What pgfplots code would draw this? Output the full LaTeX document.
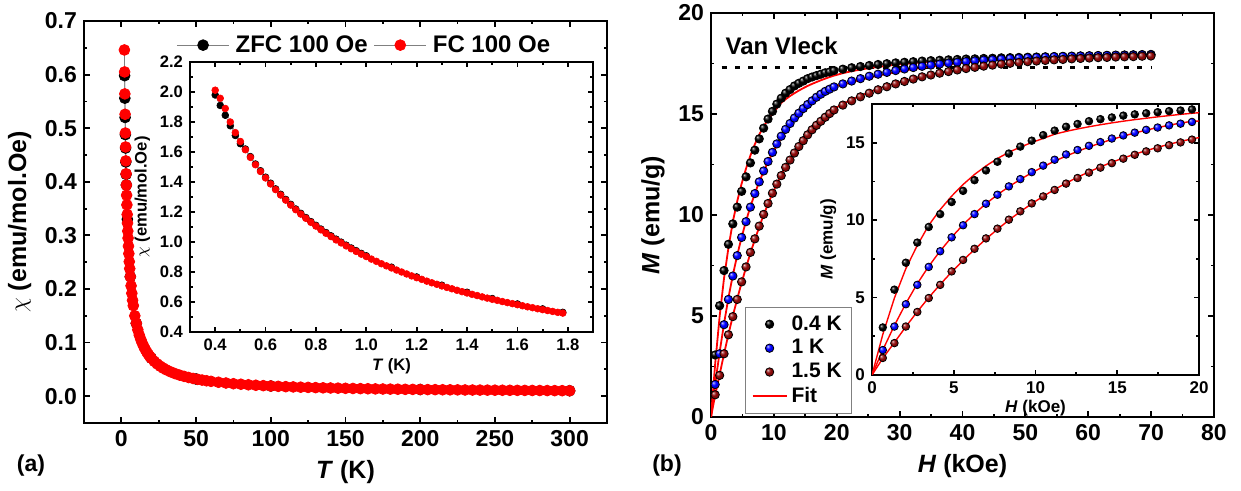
\documentclass[border=0pt]{standalone}
\usepackage{fontspec}
\setmainfont{Liberation Sans}
\usepackage{pgfplots}
\usepackage{pgfplotstable}
\pgfplotsset{compat=1.18}
\definecolor{dred}{RGB}{140,10,10}

% sharper highlight for the ball markers
\makeatletter
\pgfdeclareradialshading[tikz@ball]{ball}{\pgfqpoint{-12bp}{12bp}}{%
  color(0bp)=(tikz@ball!15!white); color(7bp)=(tikz@ball!70!white);
  color(15bp)=(tikz@ball); color(32bp)=(tikz@ball!75!black);
  color(50bp)=(tikz@ball!45!black)}
\makeatother

% chi(T), main panel (a)
\pgfplotstableread{
T chi
2.03 0.646
2.17 0.605
2.33 0.564
2.50 0.526
2.68 0.491
2.83 0.465
3.00 0.439
3.18 0.415
3.35 0.394
3.52 0.375
3.70 0.357
3.90 0.339
4.10 0.323
4.30 0.308
4.50 0.295
4.75 0.280
5.00 0.266
5.30 0.251
5.60 0.238
6.00 0.223
6.50 0.206
7.00 0.192
7.50 0.179
8.00 0.169
9.00 0.150
10 0.136
11 0.124
12 0.114
13 0.106
14 0.0989
15 0.0927
16 0.0873
17 0.0825
18 0.0782
19 0.0744
20 0.0710
22 0.0651
24 0.0602
26 0.0560
28 0.0524
30 0.0493
33 0.0454
36 0.0421
39 0.0393
42 0.0370
45 0.0349
48 0.0331
51 0.0315
54 0.0301
57 0.0288
60 0.0277
65 0.0260
70 0.0246
75 0.0233
80 0.0223
85 0.0213
90 0.0204
95 0.0197
100 0.0190
105 0.0184
110 0.0178
115 0.0173
120 0.0168
125 0.0164
130 0.0160
135 0.0156
140 0.0153
145 0.0150
150 0.0147
155 0.0144
160 0.0141
165 0.0139
170 0.0136
175 0.0134
180 0.0132
185 0.0130
190 0.0128
195 0.0127
200 0.0125
205 0.0123
210 0.0122
215 0.0120
220 0.0119
225 0.0118
230 0.0116
235 0.0115
240 0.0114
245 0.0113
250 0.0112
255 0.0111
260 0.0110
265 0.0109
270 0.0108
275 0.0107
280 0.0106
285 0.0105
290 0.0104
295 0.0103
300 0.0102
}\fcmain

\pgfplotstableread{
T chi
2.17 0.598
2.33 0.556
2.50 0.520
2.68 0.488
2.83 0.463
3.00 0.437
3.18 0.414
3.35 0.394
4.00 0.330
6.00 0.223
10 0.136
20 0.0710
50 0.0320
100 0.0190
200 0.0125
300 0.0102
}\zfcmain

% chi(T), inset of (a)
\pgfplotstableread{
T chi
0.40 2.012
0.42 1.958
0.44 1.890
0.46 1.800
0.48 1.729
0.50 1.670
0.52 1.615
0.54 1.564
0.56 1.515
0.58 1.470
0.60 1.427
0.62 1.387
0.64 1.349
0.66 1.313
0.68 1.279
0.70 1.246
0.72 1.215
0.74 1.186
0.76 1.158
0.78 1.131
0.80 1.106
0.82 1.081
0.84 1.058
0.86 1.036
0.88 1.014
0.90 0.994
0.92 0.974
0.94 0.955
0.96 0.937
0.98 0.919
1.00 0.903
1.02 0.886
1.04 0.871
1.06 0.855
1.08 0.841
1.10 0.827
1.12 0.813
1.14 0.800
1.16 0.787
1.18 0.774
1.20 0.762
1.22 0.751
1.24 0.739
1.26 0.728
1.28 0.718
1.30 0.707
1.32 0.697
1.34 0.688
1.36 0.678
1.38 0.669
1.40 0.660
1.42 0.651
1.44 0.643
1.46 0.634
1.48 0.626
1.50 0.618
1.52 0.611
1.54 0.603
1.56 0.596
1.58 0.589
1.60 0.582
1.62 0.575
1.64 0.568
1.66 0.562
1.68 0.555
1.70 0.549
1.72 0.543
1.74 0.537
1.76 0.531
1.78 0.526
}\fcin

\pgfplotstableread{
T chi
0.40 1.980
0.42 1.910
0.44 1.845
0.46 1.775
0.48 1.710
0.50 1.655
0.52 1.620
0.54 1.569
0.56 1.520
0.58 1.475
0.60 1.432
0.62 1.392
0.64 1.354
0.66 1.318
0.68 1.284
0.70 1.251
0.72 1.220
0.74 1.191
0.76 1.163
0.78 1.136
0.80 1.111
0.82 1.086
0.84 1.063
0.86 1.041
0.88 1.019
0.90 0.999
0.92 0.979
0.94 0.960
0.96 0.942
0.98 0.924
1.00 0.908
1.10 0.832
1.20 0.767
1.30 0.712
1.40 0.665
1.50 0.623
1.60 0.587
1.70 0.554
1.78 0.531
}\zfcin

% M(H): H (kOe), M data (emu/g), F fit
\pgfplotstableread{
H M F
0 nan 0
0.66 3.07 2.62
1.37 5.51 4.97
2.07 7.25 6.87
2.77 8.55 8.37
3.47 9.56 9.67
4.17 10.39 10.68
4.87 11.17 11.55
5.57 11.89 12.30
6.27 12.58 12.95
6.97 13.21 13.50
7.67 13.77 13.98
8.37 14.30 14.38
9.07 14.75 14.72
9.77 15.13 15.01
10.47 15.49 15.28
11.17 15.78 15.55
11.87 16.03 15.73
12.57 16.21 15.89
13.27 16.39 16.03
13.97 16.52 16.16
14.67 16.63 16.28
15.37 16.75 16.39
16.07 16.83 16.49
16.77 16.90 16.58
17.47 16.97 16.67
18.17 17.04 16.75
18.87 17.08 16.83
19.57 17.15 16.90
20.97 17.22 17.02
22.37 17.29 17.12
23.77 17.35 17.20
25.17 17.40 17.27
26.57 17.45 17.33
27.97 17.49 17.39
29.37 17.53 17.44
30.77 17.56 17.48
32.17 17.59 17.52
33.57 17.62 17.55
34.97 17.64 17.58
36.37 17.66 17.61
37.77 17.68 17.63
39.17 17.70 17.65
40.57 17.72 17.67
41.97 17.73 17.69
43.37 17.75 17.71
44.77 17.76 17.73
46.17 17.78 17.74
47.57 17.79 17.76
48.97 17.80 17.77
50.37 17.81 17.78
51.77 17.82 17.79
53.17 17.83 17.80
54.57 17.84 17.81
55.97 17.85 17.82
57.37 17.86 17.83
58.77 17.87 17.84
60.17 17.88 17.85
61.57 17.89 17.86
62.97 17.90 17.87
64.37 17.91 17.88
65.77 17.92 17.89
67.17 17.93 17.90
68.57 17.94 17.91
69.97 17.95 17.92
}\mhA

\pgfplotstableread{
H M F
0 nan 0
0.66 1.61 1.62
1.37 3.13 3.20
2.07 4.57 4.62
2.77 5.82 5.90
3.47 6.98 7.02
4.17 7.99 8.01
4.87 8.89 8.90
5.57 9.67 9.70
6.27 10.39 10.42
6.97 11.06 11.06
7.67 11.64 11.64
8.37 12.18 12.16
9.07 12.65 12.63
9.77 13.10 13.06
10.47 13.52 13.45
11.17 13.90 13.81
11.87 14.24 14.14
12.57 14.53 14.44
13.27 14.80 14.72
13.97 15.04 14.98
14.67 15.27 15.21
15.37 15.47 15.43
16.07 15.65 15.63
16.77 15.83 15.81
17.47 15.98 15.98
18.17 16.12 16.13
18.87 16.23 16.27
19.57 16.34 16.38
20.97 16.49 16.45
22.37 16.63 16.58
23.77 16.75 16.69
25.17 16.87 16.80
26.57 16.97 16.90
27.97 17.06 16.99
29.37 17.15 17.07
30.77 17.23 17.15
32.17 17.30 17.22
33.57 17.36 17.29
34.97 17.42 17.35
36.37 17.47 17.41
37.77 17.52 17.46
39.17 17.56 17.51
40.57 17.60 17.55
41.97 17.63 17.59
43.37 17.67 17.63
44.77 17.69 17.66
46.17 17.72 17.69
47.57 17.75 17.72
48.97 17.77 17.74
50.37 17.79 17.76
51.77 17.80 17.78
53.17 17.82 17.80
54.57 17.84 17.82
55.97 17.85 17.83
57.37 17.86 17.85
58.77 17.87 17.86
60.17 17.88 17.87
61.57 17.89 17.88
62.97 17.90 17.89
64.37 17.91 17.90
65.77 17.91 17.91
67.17 17.92 17.92
68.57 17.93 17.93
69.97 17.93 17.93
}\mhB

\pgfplotstableread{
H M F
0 nan 0
0.66 1.10 1.08
1.37 2.06 2.10
2.07 3.13 3.12
2.77 4.07 4.09
3.47 4.97 5.00
4.17 5.82 5.85
4.87 6.69 6.65
5.57 7.43 7.40
6.27 8.15 8.11
6.97 8.82 8.78
7.67 9.45 9.41
8.37 10.03 10.00
9.07 10.57 10.55
9.77 11.08 11.06
10.47 11.53 11.54
11.17 11.95 11.98
11.87 12.36 12.39
12.57 12.72 12.77
13.27 13.07 13.12
13.97 13.39 13.44
14.67 13.68 13.74
15.37 13.97 14.01
16.07 14.22 14.26
16.77 14.44 14.49
17.47 14.64 14.70
18.17 14.84 14.90
18.87 15.02 15.08
19.57 15.20 15.25
20.97 15.44 15.50
22.37 15.65 15.71
23.77 15.85 15.90
25.17 16.03 16.08
26.57 16.20 16.24
27.97 16.35 16.39
29.37 16.49 16.52
30.77 16.61 16.64
32.17 16.73 16.75
33.57 16.84 16.86
34.97 16.93 16.95
36.37 17.02 17.04
37.77 17.10 17.12
39.17 17.18 17.19
40.57 17.25 17.26
41.97 17.31 17.32
43.37 17.37 17.38
44.77 17.42 17.43
46.17 17.47 17.48
47.57 17.51 17.52
48.97 17.55 17.56
50.37 17.59 17.59
51.77 17.62 17.62
53.17 17.65 17.65
54.57 17.68 17.68
55.97 17.70 17.70
57.37 17.73 17.73
58.77 17.75 17.75
60.17 17.77 17.77
61.57 17.79 17.79
62.97 17.80 17.80
64.37 17.82 17.82
65.77 17.83 17.83
67.17 17.84 17.84
68.57 17.86 17.86
69.97 17.87 17.87
}\mhC

\pgfplotsset{
  panel/.style={
    scale only axis, anchor=south west,
    axis background/.style={fill=white},
    tick align=inside,
    axis line style={line width=1pt},
    every tick/.append style={black, line width=0.9pt},
    major tick length=3pt, minor tick length=1.7pt,
    minor x tick num=1, minor y tick num=1,
    /pgf/number format/assume math mode=true,
  },
  onedec/.style={/pgf/number format/fixed, /pgf/number format/fixed zerofill,
    /pgf/number format/precision=1},
  longleg/.style={legend image code/.code={%
    \draw[mark repeat=2,mark phase=2,##1] plot coordinates
      {(0cm,0cm) (0.46cm,0cm) (0.92cm,0cm)};}},
}

\begin{document}
\begin{tikzpicture}
\useasboundingbox (0,0) rectangle (620.5pt,245.5pt);

% ---------- panel (a) ----------
\begin{axis}[panel, at={(42pt,34pt)}, width=261.5pt, height=201pt,
  xmin=-25, xmax=325, ymin=-0.05, ymax=0.7,
  xtick={0,50,100,150,200,250,300},
  ytick={0,0.1,0.2,0.3,0.4,0.5,0.6,0.7},
  yticklabel style={onedec},
  tick label style={font=\fontsize{11.5}{13}\selectfont\bfseries},
  label style={font=\fontsize{12.5}{14}\selectfont\bfseries},
  xlabel={\textit{T} (K)}, ylabel={$\chi$ (emu/mol.Oe)},
  legend columns=2,
  legend style={at={(0.538,0.94)}, anchor=center, draw=none, fill=none,
    font=\fontsize{12}{14}\selectfont\bfseries, column sep=1pt},
]
\addplot [gray, line width=0.4pt, mark=*, mark size=2.7pt, longleg,
  mark options={black, fill=black}] table [x=T, y=chi] {\zfcmain};
\addlegendentry{ZFC 100 Oe}
\addplot [gray, line width=0.4pt, mark=*, mark size=2.7pt, longleg,
  mark options={red, fill=red}] table [x=T, y=chi] {\fcmain};
\addlegendentry{FC 100 Oe}
\end{axis}

\begin{axis}[panel, at={(95pt,79.5pt)}, width=201.5pt, height=135pt,
  xmin=0.3, xmax=1.9, ymin=0.4, ymax=2.2,
  xtick={0.4,0.6,0.8,1.0,1.2,1.4,1.6,1.8},
  ytick={0.4,0.6,0.8,1.0,1.2,1.4,1.6,1.8,2.0,2.2},
  xticklabel style={onedec}, yticklabel style={onedec},
  major tick length=2.5pt, minor tick length=1.4pt,
  tick label style={font=\fontsize{8.3}{9.5}\selectfont\bfseries},
  label style={font=\fontsize{8.3}{9.5}\selectfont\bfseries},
  xlabel={\textit{T} (K)}, ylabel={$\chi$ (emu/mol.Oe)},
  xlabel style={yshift=3pt}, ylabel style={yshift=-2pt},
]
\addplot [gray, line width=0.3pt, mark=*, mark size=1.7pt,
  mark options={black, fill=black}] table [x=T, y=chi] {\zfcin};
\addplot [gray, line width=0.3pt, mark=*, mark size=1.7pt,
  mark options={red, fill=red}] table [x=T, y=chi] {\fcin};
\end{axis}

% ---------- panel (b) ----------
\begin{axis}[panel, at={(355.5pt,37pt)}, width=251.5pt, height=202pt,
  xmin=0, xmax=80, ymin=0, ymax=20,
  xtick={0,10,20,30,40,50,60,70,80}, ytick={0,5,10,15,20},
  tick label style={font=\fontsize{11.5}{13}\selectfont\bfseries},
  label style={font=\fontsize{12.5}{14}\selectfont\bfseries},
  xlabel={\textit{H} (kOe)}, ylabel={\textit{M} (emu/g)},
  legend cell align=left,
  legend style={at={(0.068,0.008)}, anchor=south west, draw=gray, fill=white,
    font=\fontsize{10.5}{12}\selectfont\bfseries, row sep=-0.8pt},
]
\addplot [only marks, mark=ball, mark size=2.1pt, ball color=black,
  mark options={ball color=black}] table [x=H, y=M] {\mhA};
\addlegendentry{0.4 K}
\addplot [only marks, mark=ball, mark size=2.1pt, ball color=blue,
  mark options={ball color=blue}] table [x=H, y=M] {\mhB};
\addlegendentry{1 K}
\addplot [only marks, mark=ball, mark size=2.1pt, ball color=dred,
  mark options={ball color=dred}] table [x=H, y=M] {\mhC};
\addlegendentry{1.5 K}
\addplot [black, line width=1.2pt, dash pattern=on 2.5pt off 4.2pt, forget plot]
  coordinates {(1.7,17.3) (70,17.3)};
\addplot [red, line width=0.9pt, forget plot] table [x=H, y=F] {\mhA};
\addplot [red, line width=0.9pt, forget plot] table [x=H, y=F] {\mhB};
\addplot [red, line width=0.9pt, line legend] table [x=H, y=F] {\mhC};
\addlegendentry{Fit}
\node [anchor=west, font=\fontsize{12}{14}\selectfont\bfseries]
  at (axis cs:1.2,18.35) {Van Vleck};
\end{axis}

\begin{axis}[panel, at={(436pt,58pt)}, width=163.5pt, height=135.5pt,
  xmin=0, xmax=20, ymin=0, ymax=17.5,
  xtick={0,5,10,15,20}, ytick={0,5,10,15},
  major tick length=2.5pt, minor tick length=1.4pt,
  tick label style={font=\fontsize{8.5}{10}\selectfont\bfseries},
  label style={font=\fontsize{8.5}{10}\selectfont\bfseries},
  xlabel={\textit{H} (kOe)}, ylabel={\textit{M} (emu/g)},
  xlabel style={yshift=4pt}, ylabel style={yshift=-2pt},
]
\addplot [only marks, mark=ball, mark size=1.9pt, ball color=black,
  mark options={ball color=black}, restrict x to domain=0:20]
  table [x=H, y=M] {\mhA};
\addplot [only marks, mark=ball, mark size=1.9pt, ball color=blue,
  mark options={ball color=blue}, restrict x to domain=0:20]
  table [x=H, y=M] {\mhB};
\addplot [only marks, mark=ball, mark size=1.9pt, ball color=dred,
  mark options={ball color=dred}, restrict x to domain=0:20]
  table [x=H, y=M] {\mhC};
\addplot [red, line width=0.7pt] table [x=H, y=F] {\mhA};
\addplot [red, line width=0.7pt] table [x=H, y=F] {\mhB};
\addplot [red, line width=0.7pt] table [x=H, y=F] {\mhC};
\end{axis}

\node [font=\fontsize{11.5}{13}\selectfont\bfseries] at (15.5pt,12.5pt) {(a)};
\node [font=\fontsize{11.5}{13}\selectfont\bfseries] at (333.5pt,12.5pt) {(b)};
\end{tikzpicture}
\end{document}
